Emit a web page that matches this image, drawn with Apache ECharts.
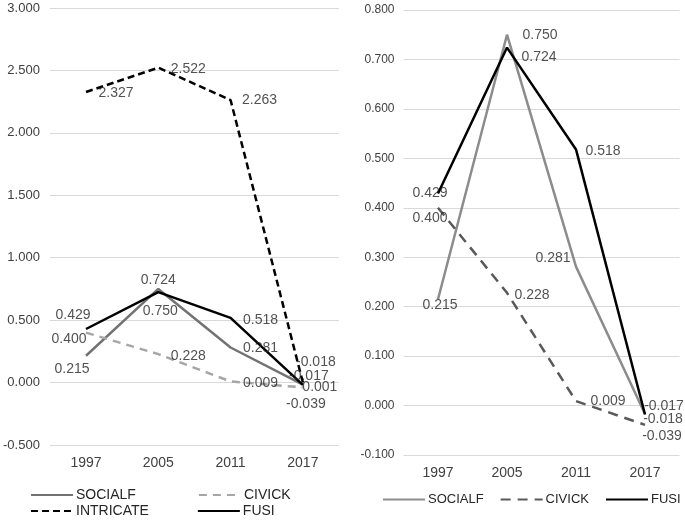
<!DOCTYPE html>
<html>
<head>
<meta charset="utf-8">
<script src="https://cdn.jsdelivr.net/npm/echarts@6/dist/echarts.min.js"></script>
<style>
html,body{margin:0;padding:0;background:#fff;}
#left{position:absolute;left:0;top:0;width:345px;height:520px;}
#right{position:absolute;left:345px;top:0;width:340px;height:520px;}
</style>
</head>
<body>
<div id="left"></div>
<div id="right"></div>
<script>
// ---- data ----
const years = ['1997', '2005', '2011', '2017'];

// left panel
const leftSOCIALF = [0.215, 0.750, 0.281, -0.017];
const leftCIVICK = [0.400, 0.228, 0.009, -0.039];
const leftINTRICATE = [2.327, 2.522, 2.263, 0.001];
const leftFUSI = [0.429, 0.724, 0.518, -0.018];
const leftYTicks = {min: -0.5, max: 3.0, interval: 0.5};

// right panel
const rightSOCIALF = [0.215, 0.750, 0.281, -0.017];
const rightCIVICK = [0.400, 0.228, 0.009, -0.039];
const rightFUSI = [0.429, 0.724, 0.518, -0.018];
const rightYTicks = {min: -0.1, max: 0.8, interval: 0.1};

// label offsets (pixel shifts of label centres from the point)
const leftOffsets = {
  SOCIALF: [[-14, 13], [2, 22], [30, 1], [6, -9]],
  CIVICK: [[-17, 7], [30, 2], [30, 2], [3, 17]],
  INTRICATE: [[30, 1], [30, 1], [29, 0], [17, 5]],
  FUSI: [[-13, -14], [0, -12], [30, 2], [13, -23]]
};
const rightOffsets = {
  SOCIALF: [[2, 6], [33, 0], [-23, -8], [19, -8]],
  CIVICK: [[-8, 10], [25, 2], [32, 0], [17, 11]],
  FUSI: [[-8, 0], [32, 10], [27, 2], [18, 5]]
};

const FONT = 'Liberation Sans, Arial, sans-serif';
const HIDDEN_SYMBOL = {color: 'rgba(0,0,0,0)', borderColor: 'rgba(0,0,0,0)', borderWidth: 0, opacity: 0};

function lineSeries(name, data, color, type, width) {
  return {
    name: name, type: 'line', data: data, symbol: 'none', silent: true,
    lineStyle: {color: color, width: width, type: type, cap: 'butt'},
    itemStyle: {color: color}, z: 3
  };
}
function labelSeries(name, data, offsets, size) {
  return {
    name: name + '_lbl', type: 'scatter', symbol: 'circle', symbolSize: 1, silent: true, z: 5,
    itemStyle: {color: 'rgba(0,0,0,0)'},
    data: data.map((v, i) => ({
      value: [years[i], v],
      label: {
        show: true, position: 'inside', offset: offsets[i],
        formatter: () => v.toFixed(3),
        color: '#262626', fontSize: size, fontFamily: FONT
      }
    }))
  };
}

// ---- left chart ----
const left = echarts.init(document.getElementById('left'));
const lc = {SOCIALF: '#737373', CIVICK: '#a6a6a6', INTRICATE: '#000000', FUSI: '#000000'};
const leftLegendBase = {
  left: 30, itemWidth: 42, itemHeight: 12, padding: 0, selectedMode: false,
  itemStyle: HIDDEN_SYMBOL,
  textStyle: {fontSize: 14, fontFamily: FONT, color: '#262626', padding: [0, 0, 0, -2]}
};
left.setOption({
  backgroundColor: '#fff',
  animation: false,
  grid: {left: 47, right: 6, top: 8, bottom: 75},
  xAxis: {
    type: 'category', data: years, boundaryGap: true,
    axisLine: {show: false}, axisTick: {show: false},
    axisLabel: {color: '#404040', fontSize: 14, fontFamily: FONT, margin: 11}
  },
  yAxis: {
    type: 'value', min: leftYTicks.min, max: leftYTicks.max, interval: leftYTicks.interval,
    axisLine: {show: false}, axisTick: {show: false},
    splitLine: {lineStyle: {color: '#d9d9d9', width: 1}},
    axisLabel: {color: '#404040', fontSize: 13, fontFamily: FONT, margin: 10,
      formatter: v => v.toFixed(3)}
  },
  legend: [
    Object.assign({}, leftLegendBase, {data: ['SOCIALF', 'CIVICK'], top: 488, itemGap: 62}),
    Object.assign({}, leftLegendBase, {data: ['INTRICATE', 'FUSI'], top: 504, itemGap: 48})
  ],
  series: [
    lineSeries('SOCIALF', leftSOCIALF, lc.SOCIALF, 'solid', 2.5),
    lineSeries('CIVICK', leftCIVICK, lc.CIVICK, [8, 6], 2.5),
    lineSeries('INTRICATE', leftINTRICATE, lc.INTRICATE, [7, 4], 2.5),
    lineSeries('FUSI', leftFUSI, lc.FUSI, 'solid', 2.5),
    labelSeries('SOCIALF', leftSOCIALF, leftOffsets.SOCIALF, 14),
    labelSeries('CIVICK', leftCIVICK, leftOffsets.CIVICK, 14),
    labelSeries('INTRICATE', leftINTRICATE, leftOffsets.INTRICATE, 14),
    labelSeries('FUSI', leftFUSI, leftOffsets.FUSI, 14)
  ]
});

// ---- right chart ----
const right = echarts.init(document.getElementById('right'));
const rc = {SOCIALF: '#8c8c8c', CIVICK: '#595959', FUSI: '#000000'};
right.setOption({
  backgroundColor: '#fff',
  animation: false,
  grid: {left: 58.5, right: 5.5, top: 10, bottom: 65},
  xAxis: {
    type: 'category', data: years, boundaryGap: true,
    axisLine: {show: false}, axisTick: {show: false},
    axisLabel: {color: '#404040', fontSize: 14, fontFamily: FONT, margin: 11}
  },
  yAxis: {
    type: 'value', min: rightYTicks.min, max: rightYTicks.max, interval: rightYTicks.interval,
    axisLine: {show: false}, axisTick: {show: false},
    splitLine: {lineStyle: {color: '#d9d9d9', width: 1}},
    axisLabel: {color: '#404040', fontSize: 12, fontFamily: FONT, margin: 9,
      formatter: v => v.toFixed(3)}
  },
  legend: {
    data: ['SOCIALF', 'CIVICK', 'FUSI'], left: 37, top: 493, itemWidth: 42, itemHeight: 12, itemGap: 16,
    itemStyle: HIDDEN_SYMBOL,
    textStyle: {fontSize: 13, fontFamily: FONT, color: '#262626', padding: [0, 0, 0, -2]}, padding: 0, selectedMode: false
  },
  series: [
    lineSeries('SOCIALF', rightSOCIALF, rc.SOCIALF, 'solid', 2.5),
    lineSeries('CIVICK', rightCIVICK, rc.CIVICK, [10, 7], 2.5),
    lineSeries('FUSI', rightFUSI, rc.FUSI, 'solid', 2.5),
    labelSeries('SOCIALF', rightSOCIALF, rightOffsets.SOCIALF, 14),
    labelSeries('CIVICK', rightCIVICK, rightOffsets.CIVICK, 14),
    labelSeries('FUSI', rightFUSI, rightOffsets.FUSI, 14)
  ]
});
</script>
</body>
</html>
